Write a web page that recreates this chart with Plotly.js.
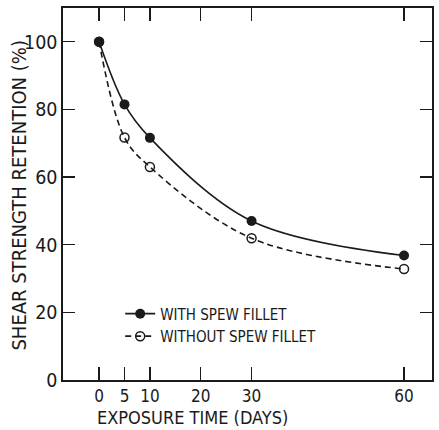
<!DOCTYPE html>
<html>
<head>
<meta charset="utf-8">
<script src="https://cdn.plot.ly/plotly-3.0.1.min.js"></script>
<style>html,body{margin:0;padding:0;background:#fff;}#chart{width:439px;height:430px;}</style>
</head>
<body>
<div id="chart"></div>
<script>
const days = [0, 5, 10, 30, 60];
const withFillet = [100, 81.5, 71.6, 47, 36.8];
const withoutFillet = [100, 71.7, 63, 41.9, 32.8];
const xTickVals = [0, 5, 10, 20, 30, 60];
const xTickText = ['0', '5', '10', '20', '30', '60'];
const yTickVals = [0, 20, 40, 60, 80, 100];
const seriesNames = ['WITH SPEW FILLET', 'WITHOUT SPEW FILLET'];
const xTitle = 'EXPOSURE TIME (DAYS)';
const yTitle = 'SHEAR STRENGTH RETENTION (%)';

const FONT = '"DejaVu Sans Condensed", "Liberation Sans Narrow", sans-serif';
const INK = '#1a1a1a';

const traces = [
  {
    x: days, y: withFillet, name: seriesNames[0], type: 'scatter', mode: 'lines+markers',
    line: {color: INK, width: 1.6, shape: 'spline', smoothing: 1},
    marker: {symbol: 'circle', size: 10, color: INK}
  },
  {
    x: days, y: withoutFillet, name: seriesNames[1], type: 'scatter', mode: 'lines+markers',
    line: {color: INK, width: 1.6, shape: 'spline', smoothing: 1, dash: '6px,4px'},
    marker: {symbol: 'circle-open', size: 9, color: INK, line: {width: 1.5, color: INK}}
  }
];

const layout = {
  width: 439, height: 430,
  margin: {l: 63, r: 7, t: 8, b: 50},
  paper_bgcolor: '#ffffff', plot_bgcolor: '#ffffff',
  font: {family: FONT, color: INK, size: 16},
  showlegend: true,
  legend: {
    x: 0.155, y: 0.222, xanchor: 'left', yanchor: 'top',
    bgcolor: 'rgba(0,0,0,0)', font: {size: 15, family: FONT, color: INK},
    tracegroupgap: 0
  },
  xaxis: {
    range: [-7.1, 65.5], tickmode: 'array', tickvals: xTickVals, ticktext: xTickText,
    ticks: 'inside', ticklen: 13, tickwidth: 1.3, tickcolor: INK,
    showline: true, linecolor: INK, linewidth: 1.6, mirror: 'ticks',
    showgrid: false, zeroline: false,
    tickfont: {size: 17, family: FONT, color: INK}
  },
  yaxis: {
    range: [0, 110], tickmode: 'array', tickvals: yTickVals,
    ticks: 'inside', ticklen: 12, tickwidth: 1.3, tickcolor: INK,
    showline: true, linecolor: INK, linewidth: 1.6, mirror: 'ticks',
    showgrid: false, zeroline: false,
    tickfont: {size: 19.5, family: FONT, color: INK}
  },
  annotations: [
    {text: xTitle, xref: 'paper', yref: 'paper', x: 0.351, y: -0.134,
     xanchor: 'center', yanchor: 'bottom', showarrow: false,
     font: {size: 18, family: FONT, color: INK}},
    {text: yTitle, xref: 'paper', yref: 'paper', x: -0.118, y: 0.497,
     xanchor: 'center', yanchor: 'middle', showarrow: false, textangle: -90,
     font: {size: 20, family: FONT, color: INK}}
  ]
};

Plotly.newPlot('chart', traces, layout, {displayModeBar: false, staticPlot: true});
</script>
</body>
</html>
